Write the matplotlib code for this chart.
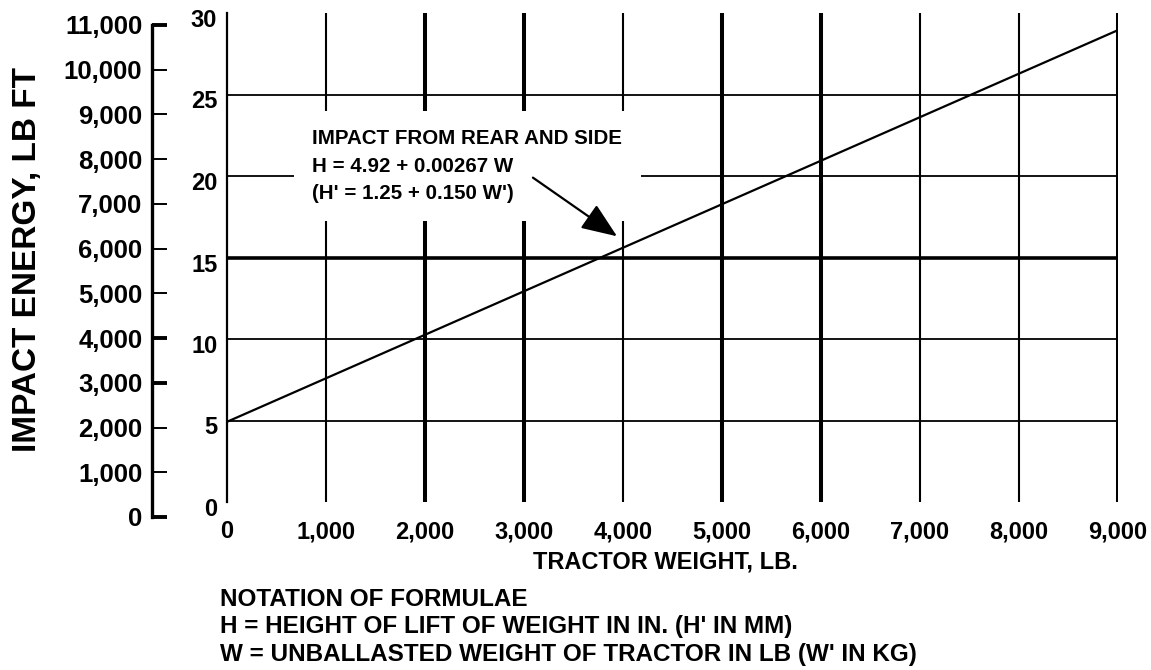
import matplotlib
matplotlib.use('Agg')
import matplotlib.pyplot as plt
import matplotlib.transforms as mtransforms
from matplotlib.ticker import FuncFormatter

plt.rcParams['font.family'] = ['Liberation Sans', 'DejaVu Sans']
plt.rcParams['font.weight'] = 'bold'

# data
weight_lb = [0, 9000]
height_in = [4.92, 28.95]

x_ticks = [0, 1000, 2000, 3000, 4000, 5000, 6000, 7000, 8000, 9000]
y_ticks = [0, 5, 10, 15, 20, 25, 30]
energy_ticks = [0, 1000, 2000, 3000, 4000, 5000, 6000, 7000, 8000, 9000, 10000, 11000]

v_heavy = [2000, 3000, 5000, 6000, 9000]
v_light = [1000, 4000, 7000, 8000]
h_heavy = [15]
h_light = [5, 10, 20, 25]
energy_heavy = [0, 3000, 4000, 11000]

note_text = ('IMPACT FROM REAR AND SIDE\n'
             'H = 4.92 + 0.00267 W\n'
             "(H' = 1.25 + 0.150 W')")
note_xy = (860, 20.6)
arrow_from = (3090, 19.9)
arrow_to = (3940, 16.3)

notation = ['NOTATION OF FORMULAE',
            "H = HEIGHT OF LIFT OF WEIGHT IN IN. (H' IN MM)",
            "W = UNBALLASTED WEIGHT OF TRACTOR IN LB (W' IN KG)"]

commas = FuncFormatter(lambda v, p: f'{int(v):,}')

fig = plt.figure(figsize=(11.51, 6.70), dpi=100)

# main chart
ax = fig.add_axes([227 / 1151, 1 - 502 / 670, 891 / 1151, 489 / 670])
ax.set_xlim(0, 9000)
ax.set_ylim(0, 30)
for s in ['top', 'right', 'bottom']:
    ax.spines[s].set_visible(False)
ax.spines['left'].set_linewidth(1.6)
ax.set_xticks(x_ticks)
ax.set_yticks(y_ticks)
ax.xaxis.set_major_formatter(commas)
ax.tick_params(axis='both', length=0)
ax.tick_params(axis='x', labelsize=17, pad=13)
ax.tick_params(axis='y', labelsize=17, pad=7)
shift = mtransforms.ScaledTranslation(0, -0.05, fig.dpi_scale_trans)
for lab in ax.get_yticklabels():
    lab.set_transform(lab.get_transform() + shift)

for x in v_heavy:
    ax.axvline(x, color='black', lw=2.9, zorder=1)
for x in v_light:
    ax.axvline(x, color='black', lw=1.5, zorder=1)
for y in h_heavy:
    ax.axhline(y, color='black', lw=2.6, zorder=1)
for y in h_light:
    ax.axhline(y, color='black', lw=1.3, zorder=1)

ax.plot(weight_lb, height_in, color='black', lw=1.6, zorder=2)

ax.text(note_xy[0], note_xy[1], note_text, fontsize=14.8, va='center', ha='left',
        linespacing=1.55, zorder=3,
        bbox=dict(boxstyle='square,pad=0.9', fc='white', ec='none'))
ax.annotate('', xy=arrow_to, xytext=arrow_from, zorder=4,
            arrowprops=dict(arrowstyle='-|>,head_length=1.0,head_width=0.4',
                            color='black', lw=1.6, mutation_scale=22,
                            shrinkA=0, shrinkB=0))

ax.set_xlabel('TRACTOR WEIGHT, LB.', fontsize=17, fontweight='bold')
ax.xaxis.set_label_coords(0.4916, -0.10)

# outer energy scale
ax2 = fig.add_axes([152 / 1151, 1 - 517 / 670, 0.001, 492 / 670])
ax2.set_ylim(0, 11000)
ax2.set_xticks([])
for s in ['top', 'right', 'bottom']:
    ax2.spines[s].set_visible(False)
ax2.spines['left'].set_linewidth(2.4)
ax2.set_yticks(energy_ticks)
ax2.yaxis.set_major_formatter(commas)
ax2.tick_params(axis='y', direction='in', length=11, width=1.4, labelsize=18.5, pad=7)
for t, v in zip(ax2.yaxis.get_major_ticks(), energy_ticks):
    if v in energy_heavy:
        t.tick1line.set_markeredgewidth(2.8)

fig.text(28 / 1151, 1 - 260 / 670, 'IMPACT ENERGY, LB FT', rotation=90,
         fontsize=24, fontweight='bold', ha='center', va='center')

for i, line in enumerate(notation):
    fig.text(220 / 1151, 1 - (599 + 27.5 * i) / 670, line, fontsize=17.5,
             fontweight='bold', ha='left', va='center')

fig.savefig('out.png', dpi=100, facecolor='white')
